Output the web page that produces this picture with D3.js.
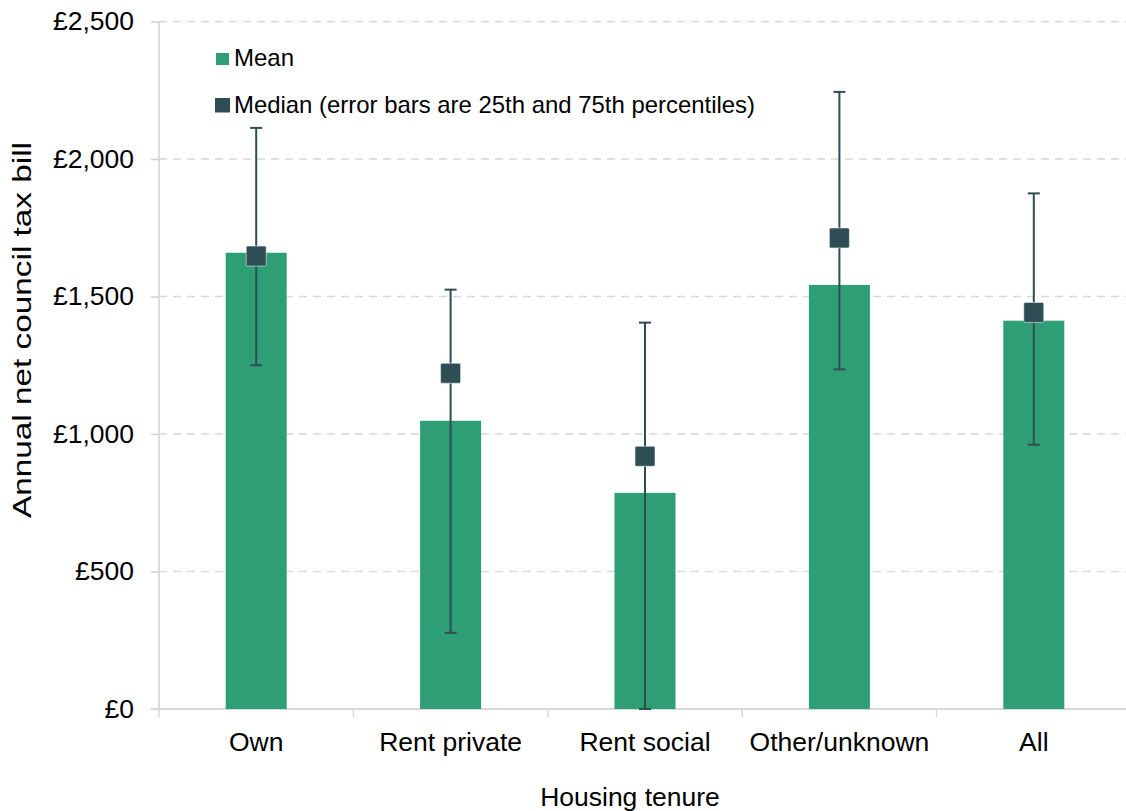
<!DOCTYPE html>
<html><head><meta charset="utf-8">
<script src="https://cdn.jsdelivr.net/npm/d3@7"></script>
<style>body{margin:0;background:#fff}svg{display:block;font-family:"Liberation Sans",Arial,sans-serif}</style>
</head><body>
<svg id="c" width="1126" height="811"></svg>
<script>
const categories = ["Own","Rent private","Rent social","Other/unknown","All"];
const meanValues = [1659,1048,786,1542,1412];
const medianValues = [1647,1221,919,1713,1442];
const p25Values = [1250,277,0,1235,961];
const p75Values = [2113,1525,1405,2244,1875];
const yTicks = [0,500,1000,1500,2000,2500];
const legendLabels = ["Mean","Median (error bars are 25th and 75th percentiles)"];

const svg = d3.select("#c");
const x = d3.scaleBand().domain(categories).range([159,1131]).paddingInner(0).paddingOuter(0);
const y = d3.scaleLinear().domain([0,2500]).range([709,21.5]);
const barW = 61;
const fmt = v => "£" + d3.format(",")(v);
const FF = "Liberation Sans, Arial, sans-serif";

// gridlines
svg.append("g").selectAll("line").data(yTicks.filter(d=>d>0)).join("line")
  .attr("x1",159).attr("x2",1126).attr("y1",d=>y(d)).attr("y2",d=>y(d))
  .attr("stroke","#d9d9d9").attr("stroke-width",1.5).attr("stroke-dasharray","8,6");

// y axis
const yAxis = d3.axisLeft(y).tickValues(yTicks).tickFormat(fmt).tickSize(8).tickPadding(17);
const gy = svg.append("g").attr("transform","translate(159,0)").call(yAxis);
gy.select(".domain").attr("stroke","#d0d0d0").attr("stroke-width",1.5).attr("d","M0,"+y(2500)+"V"+y(0));
gy.selectAll(".tick line").attr("stroke","#d0d0d0").attr("stroke-width",1.5);
gy.selectAll(".tick text").attr("font-size",26.5).attr("fill","#000").attr("font-family",FF);

// x axis
const xAxis = d3.axisBottom(x).tickSize(0).tickPadding(23);
const gx = svg.append("g").attr("transform","translate(0,"+y(0)+")").call(xAxis);
gx.select(".domain").attr("stroke","#d9d9d9").attr("stroke-width",2).attr("d","M151,0H1131");
gx.selectAll(".tick text").attr("font-size",26.5).attr("fill","#000").attr("font-family",FF);
const bounds = categories.map(c=>x(c)).concat([x(categories[4])+x.bandwidth()]);
gx.append("g").selectAll("line").data(bounds).join("line")
  .attr("x1",d=>d).attr("x2",d=>d).attr("y1",0).attr("y2",8)
  .attr("stroke","#d9d9d9").attr("stroke-width",1.5);

// bars
svg.append("g").selectAll("rect").data(categories).join("rect")
  .attr("x",(d)=>x(d)+x.bandwidth()/2-barW/2)
  .attr("width",barW)
  .attr("y",(d,i)=>y(meanValues[i]))
  .attr("height",(d,i)=>y(0)-y(meanValues[i]))
  .attr("fill","#2e9e74");

// error bars
const eb = svg.append("g").attr("stroke","#2f4d54").attr("stroke-width",2);
categories.forEach((c,i)=>{
  const cx = x(c)+x.bandwidth()/2;
  eb.append("line").attr("x1",cx).attr("x2",cx).attr("y1",y(p75Values[i])).attr("y2",y(p25Values[i]));
  eb.append("line").attr("x1",cx-6).attr("x2",cx+6).attr("y1",y(p75Values[i])).attr("y2",y(p75Values[i]));
  eb.append("line").attr("x1",cx-6).attr("x2",cx+6).attr("y1",y(p25Values[i])).attr("y2",y(p25Values[i]));
});

// median markers
svg.append("g").selectAll("rect").data(categories).join("rect")
  .attr("x",d=>x(d)+x.bandwidth()/2-10)
  .attr("y",(d,i)=>y(medianValues[i])-10)
  .attr("width",20).attr("height",20).attr("rx",1.5)
  .attr("fill","#2f4d54").attr("stroke","#e8eeee").attr("stroke-width",0.6);

// legend
const lg = svg.append("g");
lg.append("rect").attr("x",216).attr("y",53).attr("width",13).attr("height",12).attr("fill","#2e9e74");
lg.append("text").attr("x",234).attr("y",66).attr("font-size",24).text(legendLabels[0]);
lg.append("rect").attr("x",215).attr("y",98).attr("width",15).attr("height",14.5).attr("fill","#2f4d54");
lg.append("text").attr("x",234).attr("y",113).attr("font-size",24).attr("textLength",521).attr("lengthAdjust","spacingAndGlyphs").text(legendLabels[1]);

// axis titles
svg.append("text").attr("transform","translate(31,330) rotate(-90)").attr("text-anchor","middle")
  .attr("font-size",26.5).attr("textLength",376).attr("lengthAdjust","spacingAndGlyphs").text("Annual net council tax bill");
svg.append("text").attr("x",630).attr("y",806).attr("text-anchor","middle")
  .attr("font-size",26.5).text("Housing tenure");
</script>
</body></html>
